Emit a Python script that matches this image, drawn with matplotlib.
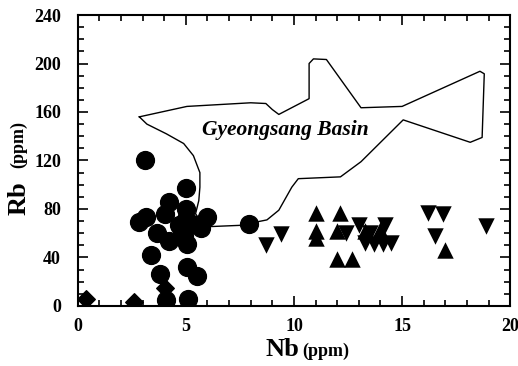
import numpy as np
import matplotlib.pyplot as plt

# granite groups (Nb, Rb in ppm)
circle_nb = [3.1, 5.0, 4.2, 5.0, 4.05, 2.85, 3.15, 6.0, 5.0, 4.7, 5.7, 3.65, 4.2, 4.9, 5.05,
             3.4, 5.05, 5.5, 3.8, 4.1, 5.1, 7.9, 4.8, 5.3]
circle_rb = [120, 97, 86, 80, 76, 69, 73, 73, 72, 67, 64, 60, 54, 58, 51,
             42, 32, 25, 26, 5, 6, 68, 62, 68]

diamond_nb = [0.4, 2.6, 4.05]
diamond_rb = [6, 3, 15]

up_nb = [11.0, 11.0, 11.0, 12.15, 12.0, 12.0, 12.7, 13.3, 14.0, 17.0]
up_rb = [77, 62, 56, 77, 62, 39, 39, 62, 63, 46]

down_nb = [8.7, 9.4, 12.4, 13.0, 14.2, 13.5, 13.3, 13.7, 14.1, 14.5, 16.2, 16.9, 16.5, 18.9]
down_rb = [50, 59, 60, 67, 67, 60, 52, 51, 51, 52, 77, 76, 58, 66]

# Gyeongsang Basin field outline
basin_nb = [2.85, 3.2, 4.1, 4.9, 5.35, 5.65, 5.65, 5.6, 5.45, 5.7, 6.15, 7.5, 7.9, 8.3, 8.75,
            9.3, 9.9, 10.2, 12.15, 13.1, 15.05, 18.15, 18.7, 18.8, 18.6, 15.0, 13.1, 11.5,
            10.9, 10.7, 10.7, 9.3, 9.0, 8.7, 8.0, 5.05, 2.85]
basin_rb = [156, 150, 142, 134, 124, 110, 98, 87, 76, 70, 65.5, 66.5, 68, 69.4, 71,
            79, 98, 105, 106.5, 119, 153.5, 135, 139, 191.5, 193.6, 164.6, 163.5, 203.3,
            203.8, 200, 171, 158, 162, 167, 167.6, 164.6, 156]

plt.rcParams['font.family'] = ['Liberation Serif', 'DejaVu Serif']
plt.rcParams['font.weight'] = 'bold'

fig = plt.figure(figsize=(5.18, 3.66), dpi=100)
ax = fig.add_axes([0.15, 0.164, 0.835, 0.795])

ax.plot(basin_nb, basin_rb, color='black', lw=1.0, zorder=1)
ax.text(9.6, 145.5, 'Gyeongsang Basin', fontsize=15.5, fontweight='bold', fontstyle='italic',
        ha='center', va='center')

ax.scatter(circle_nb, circle_rb, s=165, marker='o', color='black', zorder=3)
ax.scatter(diamond_nb, diamond_rb, s=80, marker='D', color='black', zorder=3)
ax.scatter(up_nb, up_rb, s=140, marker='^', color='black', zorder=3, linewidths=0)
ax.scatter(down_nb, down_rb, s=140, marker='v', color='black', zorder=3, linewidths=0)

ax.set_xlim(0, 20)
ax.set_ylim(0, 240)
ax.set_xticks([0, 5, 10, 15, 20])
ax.set_xticks(np.arange(0, 21, 1), minor=True)
ax.set_yticks(np.arange(0, 241, 40))
ax.set_yticks(np.arange(0, 241, 10), minor=True)
ax.tick_params(which='both', direction='in', top=True, right=True, width=1.2,
               labelsize=13)
ax.tick_params(axis='x', which='major', pad=9)
ax.tick_params(axis='y', which='major', pad=12)
ax.tick_params(which='major', length=7)
ax.tick_params(which='minor', length=4)
for lab in ax.get_xticklabels() + ax.get_yticklabels():
    lab.set_fontweight('bold')
for sp in ax.spines.values():
    sp.set_linewidth(1.5)

fig.text(0.577, 0.027, 'Nb', fontsize=19, fontweight='bold', ha='right', va='baseline')
fig.text(0.583, 0.027, '(ppm)', fontsize=13, fontweight='bold', ha='left', va='baseline')
fig.text(0.036, 0.413, 'Rb', fontsize=19, fontweight='bold', rotation=90, ha='center', va='bottom')
fig.text(0.036, 0.54, '(ppm)', fontsize=13, fontweight='bold', rotation=90, ha='center', va='bottom')

fig.savefig('out.png', dpi=100)
